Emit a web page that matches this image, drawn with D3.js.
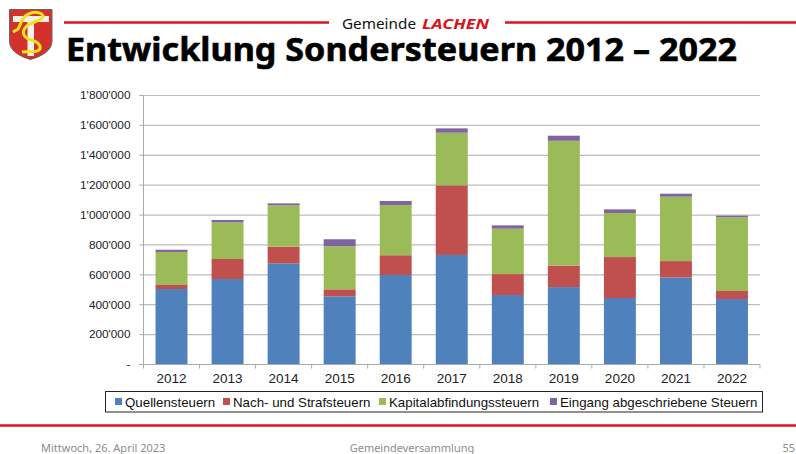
<!DOCTYPE html>
<html>
<head>
<meta charset="utf-8">
<script src="https://cdn.jsdelivr.net/npm/d3@7"></script>
<style>
  html, body { margin: 0; padding: 0; background: #fff; overflow: hidden; }
  .tick text { font-family: "Liberation Sans", Arial, sans-serif; fill: #222; }
</style>
</head>
<body>
<div id="chart"></div>
<script>
const years = ["2012", "2013", "2014", "2015", "2016", "2017", "2018", "2019", "2020", "2021", "2022"];
const seriesNames = ["Quellensteuern", "Nach- und Strafsteuern", "Kapitalabfindungssteuern", "Eingang abgeschriebene Steuern"];
const quellensteuern = [505000, 572000, 677000, 456000, 599000, 733000, 465000, 518000, 445000, 582000, 438000];
const strafsteuern = [27000, 134000, 111000, 47000, 132000, 466000, 140000, 144000, 274000, 110000, 54000];
const kapitalabfindung = [221000, 245000, 277000, 288000, 336000, 352000, 304000, 835000, 295000, 431000, 493000];
const abgeschrieben = [15000, 16000, 13000, 47000, 27000, 29000, 22000, 34000, 24000, 20000, 11000];
const yTicks = [0, 200000, 400000, 600000, 800000, 1000000, 1200000, 1400000, 1600000, 1800000];
const colors = ["#4f81bd", "#c0504d", "#9bbb59", "#8064a2"];

const width = 796;
const height = 454;
const margin = { top: 95.5, right: 36, bottom: 89.5, left: 143.5 };
const innerWidth = width - margin.left - margin.right;
const innerHeight = height - margin.top - margin.bottom;

const svg = d3.select("#chart").append("svg")
    .attr("width", width)
    .attr("height", height)
    .style("display", "block");

// header
const red = "#d8141c";
const headFont = "'Noto Sans', sans-serif";
svg.append("line").attr("x1", 64).attr("x2", 329).attr("y1", 22.5).attr("y2", 22.5)
    .attr("stroke", red).attr("stroke-width", 2.4);
svg.append("line").attr("x1", 505).attr("x2", 796).attr("y1", 22.5).attr("y2", 22.5)
    .attr("stroke", red).attr("stroke-width", 2.4);

svg.append("text").attr("x", 342).attr("y", 29)
    .style("font-family", headFont).style("font-size", "15px")
    .attr("textLength", 74).attr("lengthAdjust", "spacingAndGlyphs")
    .attr("fill", "#111").text("Gemeinde");
svg.append("text").attr("x", 422).attr("y", 29)
    .style("font-family", headFont).style("font-size", "15px")
    .style("font-weight", "bold").style("font-style", "italic")
    .attr("textLength", 67).attr("lengthAdjust", "spacingAndGlyphs")
    .attr("fill", red).text("LACHEN");
svg.append("text").attr("x", 66).attr("y", 61)
    .style("font-family", headFont).style("font-size", "33px")
    .style("font-weight", "bold")
    .attr("textLength", 671).attr("lengthAdjust", "spacingAndGlyphs")
    .attr("fill", "#000").attr("stroke", "#000").attr("stroke-width", 0.6)
    .text("Entwicklung Sondersteuern 2012 – 2022");

// coat of arms
const logo = svg.append("g").attr("transform", "translate(9, 9)");
logo.append("path")
    .attr("d", "M0.5 0.5H43V32C43 41 34 47 21.5 50.5C9 47 0.5 41 0.5 32Z")
    .attr("fill", "#d2312c").attr("stroke", "#666").attr("stroke-width", 1);
logo.append("path").attr("d", "M4 7H40V13H25V47H18.5V13H4Z").attr("fill", "#f4f1ec");
logo.append("path")
    .attr("d", "M4 23L9 20C12 16 12 7 22 4C28 2 35 5 34 8C33 12 20 13 16 19C12 25 16 29 22 31C30 33 33 38 30 41C27 44 18 42 13 43")
    .attr("fill", "none").attr("stroke", "#f2e21b").attr("stroke-width", 3);

// scales
const x = d3.scaleBand()
    .domain(years)
    .range([0, innerWidth])
    .paddingInner(0.43)
    .paddingOuter(0.215);

const y = d3.scaleLinear()
    .domain([0, 1800000])
    .range([innerHeight, 0]);

const plot = svg.append("g")
    .attr("transform", `translate(${margin.left}, ${margin.top})`);

// gridlines
plot.append("g")
    .selectAll("line")
    .data(yTicks.slice(1))
    .enter()
    .append("line")
    .attr("x1", 0)
    .attr("x2", innerWidth)
    .attr("y1", d => y(d))
    .attr("y2", d => y(d))
    .attr("stroke", "#bdbdbd")
    .attr("stroke-width", 1.2);

// stacked bars
const rows = years.map((year, i) => ({
    year,
    [seriesNames[0]]: quellensteuern[i],
    [seriesNames[1]]: strafsteuern[i],
    [seriesNames[2]]: kapitalabfindung[i],
    [seriesNames[3]]: abgeschrieben[i]
}));
const stacked = d3.stack().keys(seriesNames)(rows);

plot.append("g")
    .selectAll("g")
    .data(stacked)
    .enter()
    .append("g")
    .attr("fill", (d, i) => colors[i])
    .selectAll("rect")
    .data(d => d)
    .enter()
    .append("rect")
    .attr("x", d => x(d.data.year))
    .attr("y", d => y(d[1]))
    .attr("width", x.bandwidth())
    .attr("height", d => y(d[0]) - y(d[1]));

// axes
const fmt = d3.formatLocale({ decimal: ".", thousands: "'", grouping: [3], currency: ["", ""] }).format(",");
const yAxis = plot.append("g")
    .call(d3.axisLeft(y).offset(0).tickValues(yTicks).tickSize(4).tickPadding(9)
        .tickFormat(d => d === 0 ? "-" : fmt(d)));
yAxis.selectAll("text").style("font-size", "11.8px");
yAxis.selectAll("line").attr("stroke", "#aaa");
yAxis.select(".domain").attr("stroke", "#aaa");

const xAxis = plot.append("g")
    .attr("transform", `translate(0, ${innerHeight})`)
    .call(d3.axisBottom(x).offset(0).tickSize(0).tickPadding(9));
xAxis.selectAll("text").style("font-size", "13.5px");
xAxis.select(".domain").attr("stroke", "#aaa");
// tick marks sit between the categories
xAxis.selectAll("line.sep")
    .data(d3.range(years.length + 1))
    .enter()
    .append("line")
    .attr("class", "sep")
    .attr("x1", d => d * x.step())
    .attr("x2", d => d * x.step())
    .attr("y1", 0)
    .attr("y2", 4)
    .attr("stroke", "#aaa");

// legend
const legend = svg.append("g");
legend.append("rect")
    .attr("x", 105.5).attr("y", 391.5).attr("width", 657).attr("height", 20.5)
    .attr("fill", "#fff").attr("stroke", "#222").attr("stroke-width", 1);
const legendX = [115, 223, 379, 550];
const legendItems = legend.selectAll("g")
    .data(seriesNames)
    .enter()
    .append("g")
    .attr("transform", (d, i) => `translate(${legendX[i]}, 0)`);
legendItems.append("rect")
    .attr("x", 0).attr("y", 398).attr("width", 7).attr("height", 7)
    .attr("fill", (d, i) => colors[i]);
legendItems.append("text")
    .attr("x", 10).attr("y", 406.5)
    .style("font-family", "'Liberation Sans', Arial, sans-serif")
    .style("font-size", "13.3px")
    .attr("fill", "#111")
    .text(d => d);

// footer
svg.append("line").attr("x1", 0).attr("x2", 796).attr("y1", 425.5).attr("y2", 425.5)
    .attr("stroke", red).attr("stroke-width", 2.4);
const footer = [
    { x: 41, anchor: "start", text: "Mittwoch, 26. April 2023" },
    { x: 412, anchor: "middle", text: "Gemeindeversammlung" },
    { x: 795, anchor: "end", text: "55" }
];
svg.append("g").selectAll("text")
    .data(footer)
    .enter()
    .append("text")
    .attr("x", d => d.x)
    .attr("y", 452)
    .attr("text-anchor", d => d.anchor)
    .style("font-family", headFont)
    .style("font-size", "11px")
    .attr("fill", "#8c8c8c")
    .text(d => d.text);
</script>
</body>
</html>
